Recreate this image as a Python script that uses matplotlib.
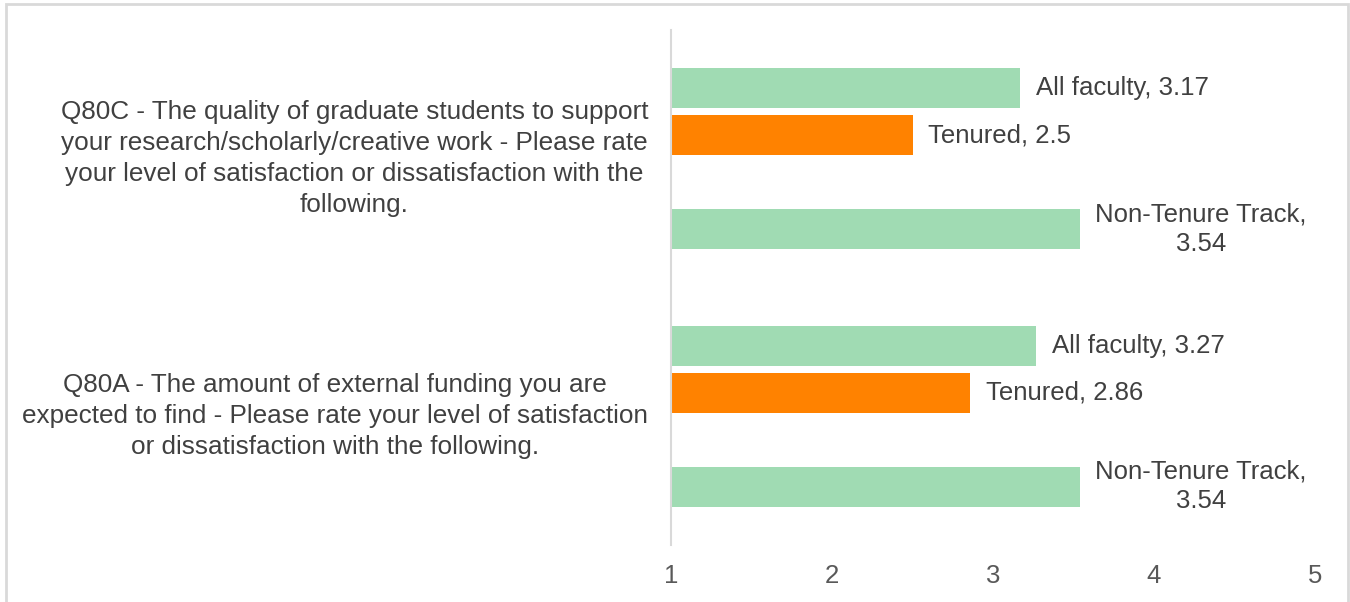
import numpy as np
import matplotlib.pyplot as plt
from matplotlib.patches import Rectangle

plt.rcParams['font.family'] = ['Liberation Sans', 'DejaVu Sans']

# questions, bottom to top
questions = [
    "Q80A - The amount of external funding you are\nexpected to find - Please rate your level of satisfaction\nor dissatisfaction with the following.",
    "Q80C - The quality of graduate students to support\nyour research/scholarly/creative work - Please rate\nyour level of satisfaction or dissatisfaction with the\nfollowing.",
]
series = ["All faculty", "Tenured", "Tenure-Track", "Non-Tenure Track"]
values = {
    "All faculty": [3.27, 3.17],
    "Tenured": [2.86, 2.5],
    "Tenure-Track": [np.nan, np.nan],
    "Non-Tenure Track": [3.54, 3.54],
}
colors = {
    "All faculty": "#a0dbb3",
    "Tenured": "#ff8200",
    "Tenure-Track": "#a0dbb3",
    "Non-Tenure Track": "#a0dbb3",
}
xticks = [1, 2, 3, 4, 5]

fig = plt.figure(figsize=(13.5, 6.02), dpi=100)
W, H = 1350, 602
ax = fig.add_axes([671 / W, 1 - 545 / H, (1315 - 671) / W, (545 - 30) / H])

slot = 47 / 258
barh = 40 / 258
y0 = np.arange(len(questions))
for i, s in enumerate(series):
    off = (1.5 - i) * slot
    vals = np.array(values[s], dtype=float)
    ax.barh(y0 + off, vals - 1, left=1, height=barh, color=colors[s])
    for y, v in zip(y0 + off, vals):
        if np.isnan(v):
            continue
        if s == "Non-Tenure Track":
            ax.annotate(f"{s},\n{v:g}", (v, y), xytext=(11, 0), textcoords='offset points',
                        ha='left', va='center', multialignment='center',
                        fontsize=18.5, color='#404040', linespacing=1.3)
        else:
            ax.annotate(f"{s}, {v:g}", (v, y), xytext=(11, 0), textcoords='offset points',
                        ha='left', va='center', fontsize=18.5, color='#404040')

ax.set_xlim(1, 5)
ax.set_ylim(-0.5, 1.5)
ax.set_xticks(xticks)
ax.set_xticklabels([str(t) for t in xticks], fontsize=18.5, color='#595959')
ax.tick_params(axis='x', length=0, pad=14)
ax.set_yticks([])
for side in ['top', 'right', 'bottom']:
    ax.spines[side].set_visible(False)
ax.spines['left'].set_color('#d9d9d9')
ax.spines['left'].set_linewidth(1.5)

for y, q in zip(y0, questions):
    ax.annotate(q, (1, y), xytext=(-16.5, 0), textcoords='offset points',
                ha='right', va='center', multialignment='center',
                fontsize=18.8, color='#404040', linespacing=1.36,
                annotation_clip=False)

# chart border
fig.patches.append(Rectangle((6 / W, -0.05), (1348 - 6) / W, 1 - 4 / H + 0.05,
                             transform=fig.transFigure, fill=False,
                             edgecolor='#d9d9d9', linewidth=2))

fig.savefig('out.png', dpi=100)
